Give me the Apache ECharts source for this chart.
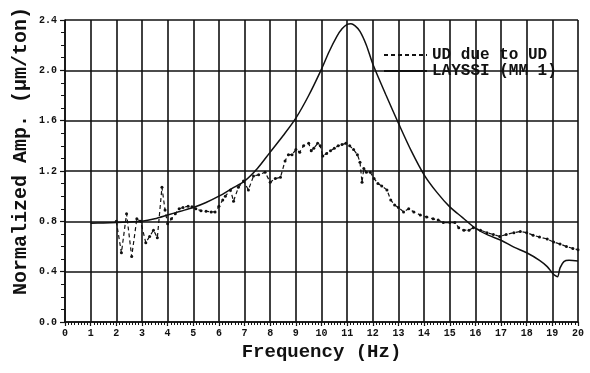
<!DOCTYPE html>
<html>
<head>
<meta charset="utf-8">
<script src="https://cdn.jsdelivr.net/npm/echarts@6/dist/echarts.min.js"></script>
<style>
  html, body { margin: 0; padding: 0; background: #fff; }
  #chart { width: 590px; height: 373px; }
</style>
</head>
<body>
<div id="chart"></div>
<script>
// Measured response: vertical excitation, vertical response
const measuredFreq = [
  2.0, 2.2, 2.4, 2.6, 2.8, 2.95, 3.15, 3.3, 3.45, 3.6, 3.78, 3.9, 4.0, 4.15, 4.3,
  4.45, 4.6, 4.8, 4.95, 5.1, 5.3, 5.5, 5.7, 5.85, 6.0, 6.15, 6.25, 6.45, 6.57, 6.76,
  6.96, 7.15, 7.35, 7.55, 7.8, 8.0, 8.2, 8.4, 8.58, 8.71, 8.85, 9.0, 9.15, 9.3,
  9.5, 9.6, 9.7, 9.85, 9.95, 10.05, 10.2, 10.35, 10.5, 10.65, 10.8, 10.95, 11.1,
  11.25, 11.4, 11.5, 11.58, 11.65, 11.75, 11.9, 12.05, 12.2, 12.35, 12.55, 12.7,
  12.85, 13.0, 13.2, 13.4, 13.6, 13.85, 14.1, 14.35, 14.55, 14.75, 15.0, 15.2,
  15.35, 15.55, 15.75, 15.92, 16.2, 16.45, 16.7, 16.95, 17.2, 17.5, 17.75, 18.0,
  18.25, 18.5, 18.8, 19.05, 19.3, 19.55, 19.8, 20.0
];
const measuredAmp = [
  0.80, 0.55, 0.86, 0.52, 0.82, 0.80, 0.63, 0.68, 0.73, 0.67, 1.07, 0.89, 0.78, 0.82, 0.86,
  0.90, 0.91, 0.92, 0.915, 0.90, 0.885, 0.88, 0.875, 0.875, 0.92, 0.97, 1.00, 1.05, 0.96, 1.07,
  1.12, 1.05, 1.16, 1.17, 1.19, 1.11, 1.14, 1.15, 1.28, 1.33, 1.33, 1.37, 1.35, 1.40,
  1.42, 1.36, 1.38, 1.42, 1.40, 1.32, 1.34, 1.36, 1.38, 1.40, 1.41, 1.42, 1.40,
  1.37, 1.33, 1.27, 1.11, 1.22, 1.19, 1.19, 1.14, 1.10, 1.08, 1.05, 0.97,
  0.93, 0.91, 0.875, 0.90, 0.875, 0.85, 0.835, 0.82, 0.81, 0.79, 0.79, 0.79,
  0.75, 0.73, 0.73, 0.75, 0.73, 0.71, 0.695, 0.68, 0.695, 0.71, 0.72, 0.71,
  0.69, 0.675, 0.66, 0.635, 0.62, 0.60, 0.585, 0.575
];

// LAYSSI model prediction
const modelFreq = [
  1.0, 1.5, 2.0, 2.5, 3.0, 3.5, 4.0, 4.5, 5.0, 5.5, 6.0, 6.5, 7.0, 7.5, 8.0, 8.5,
  9.0, 9.5, 10.0, 10.3, 10.6, 10.8, 11.0, 11.15, 11.3, 11.5, 11.75, 12.0, 12.5,
  13.0, 13.5, 14.0, 14.5, 15.0, 15.5, 16.0, 16.5, 17.0, 17.5, 18.0, 18.5, 18.8,
  19.0, 19.1, 19.2, 19.3, 19.45, 19.65, 20.0
];
const modelAmp = [
  0.785, 0.787, 0.79, 0.795, 0.80, 0.82, 0.85, 0.88, 0.91, 0.95, 1.00, 1.06, 1.12, 1.22, 1.35, 1.48,
  1.62, 1.80, 2.01, 2.15, 2.27, 2.33, 2.365, 2.37, 2.355, 2.31, 2.20, 2.05, 1.81,
  1.58, 1.36, 1.17, 1.03, 0.915, 0.83, 0.745, 0.69, 0.65, 0.595, 0.55, 0.49, 0.44,
  0.39, 0.37, 0.36, 0.43, 0.48, 0.49, 0.485
];

const seriesNames = ['UD due to UD', 'LAYSSI (MM 1)'];
const yTicks = { min: 0, max: 2.4, step: 0.4 };
const xTicks = { min: 0, max: 20, step: 1 };

const pair = (xs, ys) => xs.map((x, i) => [x, ys[i]]);

const FONT = '"Liberation Mono", "DejaVu Sans Mono", monospace';
const INK = '#111';

const chart = echarts.init(document.getElementById('chart'), null, { renderer: 'canvas' });

chart.setOption({
  animation: false,
  backgroundColor: '#fff',
  grid: { left: 65, right: 12, top: 20, bottom: 51, containLabel: false },
  legend: {
    orient: 'vertical',
    left: 378,
    top: 42,
    itemWidth: 43,
    itemHeight: 10,
    itemGap: 0,
    data: seriesNames,
    itemStyle: { opacity: 0 },
    textStyle: { fontFamily: FONT, fontWeight: 'bold', fontSize: 16, color: INK, lineHeight: 15 }
  },
  xAxis: {
    type: 'value',
    min: xTicks.min,
    max: xTicks.max,
    interval: xTicks.step,
    name: 'Frequency (Hz)',
    nameLocation: 'middle',
    nameGap: 19,
    nameTextStyle: { fontFamily: FONT, fontWeight: 'bold', fontSize: 19, color: INK },
    axisLine: { show: true, lineStyle: { color: INK, width: 1.6 } },
    axisTick: { show: true, length: 4, lineStyle: { color: INK, width: 1.2 } },
    minorTick: { show: true, splitNumber: 8, length: 3, lineStyle: { color: INK, width: 1 } },
    axisLabel: { fontFamily: FONT, fontWeight: 'bold', fontSize: 10, color: INK, margin: 6 },
    splitLine: { show: true, lineStyle: { color: INK, width: 1.6 } }
  },
  yAxis: {
    type: 'value',
    min: yTicks.min,
    max: yTicks.max,
    interval: yTicks.step,
    axisLine: { show: true, lineStyle: { color: INK, width: 1.6 } },
    axisTick: { show: true, length: 5, lineStyle: { color: INK, width: 1.2 } },
    minorTick: { show: true, splitNumber: 4, length: 4, lineStyle: { color: INK, width: 1 } },
    axisLabel: {
      fontFamily: FONT, fontWeight: 'bold', fontSize: 10, color: INK, margin: 8,
      formatter: v => v.toFixed(1)
    },
    splitLine: { show: true, lineStyle: { color: INK, width: 1.6 } }
  },
  graphic: [{
    type: 'text',
    x: 21,
    y: 151,
    rotation: Math.PI / 2,
    style: {
      text: 'Normalized Amp. (μm/ton)',
      fontFamily: FONT,
      fontWeight: 'bold',
      fontSize: 20,
      fill: INK,
      textAlign: 'center',
      textVerticalAlign: 'middle'
    }
  }],
  series: [
    {
      name: seriesNames[0],
      type: 'line',
      data: pair(measuredFreq, measuredAmp),
      symbol: 'circle',
      symbolSize: 3,
      showSymbol: true,
      itemStyle: { color: INK },
      lineStyle: { color: INK, width: 1.2, type: [4, 3] },
      z: 3
    },
    {
      name: seriesNames[1],
      type: 'line',
      data: pair(modelFreq, modelAmp),
      smooth: 0.3,
      symbol: 'none',
      itemStyle: { color: INK },
      lineStyle: { color: INK, width: 1.5 },
      z: 4
    }
  ]
});
</script>
</body>
</html>
